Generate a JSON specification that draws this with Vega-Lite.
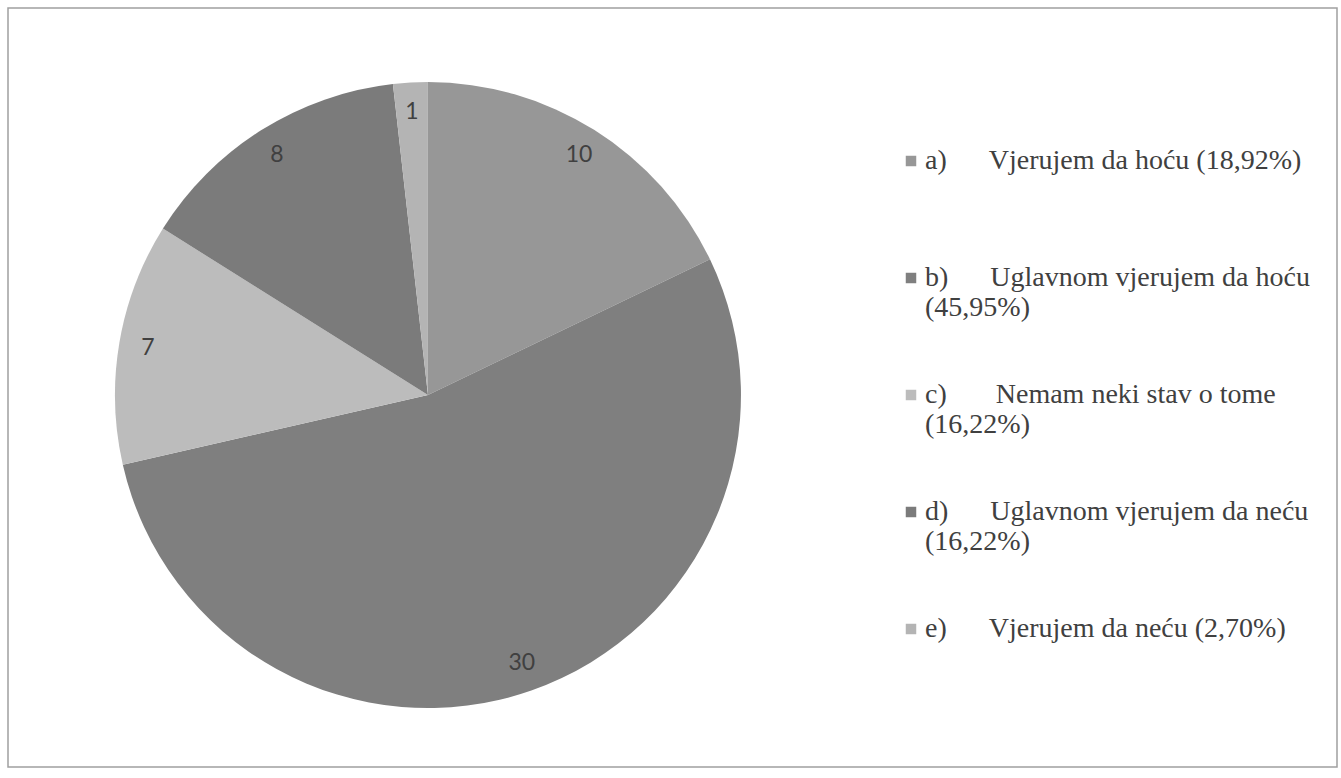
{
  "$schema": "https://vega.github.io/schema/vega-lite/v6.json",
  "width": 1329,
  "height": 759,
  "autosize": "none",
  "padding": {"left": 8, "top": 8, "right": 4, "bottom": 11},
  "background": "white",
  "config": {
    "view": {"stroke": null}
  },
  "data": {
    "values": [
      {"key": "a", "label": "a)\u00a0\u00a0\u00a0\u00a0\u00a0\u00a0Vjerujem da hoću (18,92%)|", "count": 10},
      {"key": "b", "label": "b)\u00a0\u00a0\u00a0\u00a0\u00a0\u00a0Uglavnom vjerujem da hoću|(45,95%)", "count": 30},
      {"key": "c", "label": "c)\u00a0\u00a0\u00a0\u00a0\u00a0\u00a0\u00a0Nemam neki stav o tome|(16,22%)", "count": 7},
      {"key": "d", "label": "d)\u00a0\u00a0\u00a0\u00a0\u00a0\u00a0Uglavnom vjerujem da neću|(16,22%)", "count": 8},
      {"key": "e", "label": "e)\u00a0\u00a0\u00a0\u00a0\u00a0\u00a0Vjerujem da neću (2,70%)|", "count": 1}
    ]
  },
  "layer": [
    {
      "data": {"values": [{"frame": 1}]},
      "mark": {"type": "rect", "fill": null, "stroke": "#a0a0a0", "strokeWidth": 1.5},
      "encoding": {}
    },
    {
      "mark": {"type": "arc", "radius": 313, "x": {"expr": "width*0.316"}, "y": {"expr": "height*0.51"}},
      "encoding": {
        "theta": {"field": "count", "type": "quantitative", "stack": true},
        "order": {"field": "key"},
        "color": {
          "field": "label",
          "type": "nominal",
          "sort": {"field": "key"},
          "scale": {"range": ["#979797", "#7f7f7f", "#bcbcbc", "#7b7b7b", "#b4b4b4"]},
          "legend": {
            "title": null,
            "orient": "none",
            "legendX": 889,
            "legendY": 139,
            "symbolType": "square",
            "symbolSize": 110,
            "symbolStrokeWidth": 0,
            "labelFont": "Liberation Serif",
            "labelFontSize": 28,
            "labelColor": "#404040",
            "labelLimit": 500,
            "labelOffset": 0,
            "labelBaseline": "middle",
            "rowPadding": 59,
            "labelExpr": "split(datum.label, '|')",
            "labelLineHeight": 32
          }
        }
      }
    },
    {
      "mark": {"type": "text", "radius": 284, "x": {"expr": "width*0.316"}, "y": {"expr": "height*0.51"}, "font": "Lato", "fontSize": 23, "color": "#404040"},
      "encoding": {
        "theta": {"field": "count", "type": "quantitative", "stack": true},
        "order": {"field": "key"},
        "text": {"field": "count", "type": "quantitative"}
      }
    }
  ]
}
